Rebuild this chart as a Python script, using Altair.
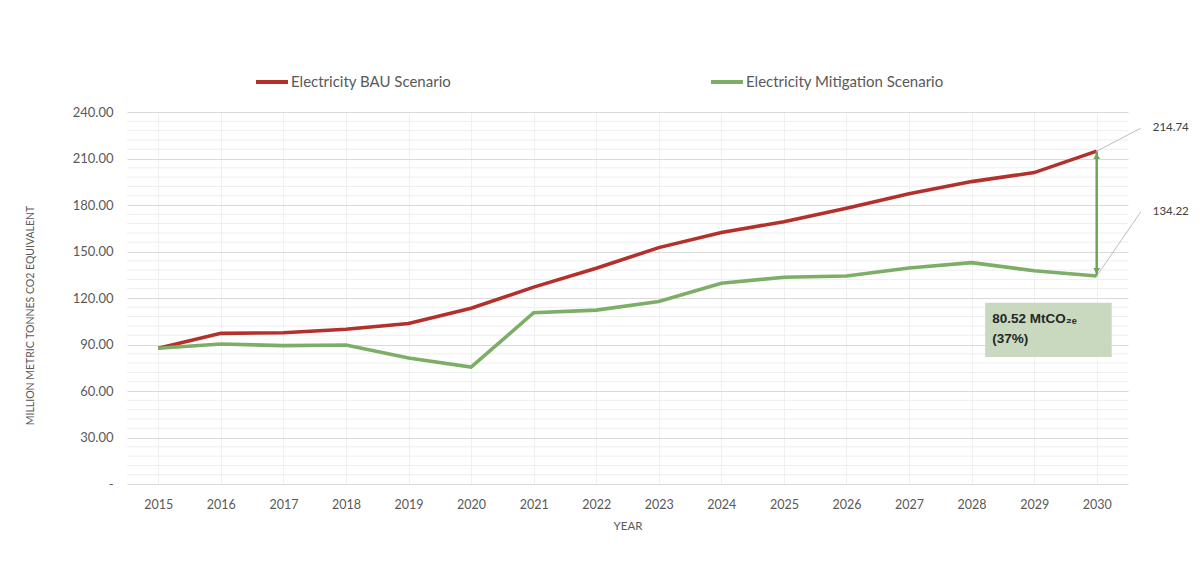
import altair as alt
import pandas as pd

years = ["2015", "2016", "2017", "2018", "2019", "2020", "2021", "2022",
         "2023", "2024", "2025", "2026", "2027", "2028", "2029", "2030"]
bau = [87.6, 97.2, 97.6, 99.8, 103.6, 113.4, 127.0, 139.2,
       152.5, 162.3, 169.2, 177.9, 187.3, 195.1, 200.9, 214.74]
mit = [87.6, 90.3, 89.3, 89.7, 81.3, 75.4, 110.5, 112.2,
       117.8, 129.5, 133.4, 134.2, 139.4, 142.8, 137.6, 134.22]
series_names = ["Electricity BAU Scenario", "Electricity Mitigation Scenario"]
series_colors = ["#b3302b", "#7dae67"]

minor_grid = [6, 12, 18, 24, 36, 42, 48, 54, 66, 72, 78, 84, 96, 102, 108, 114,
              126, 132, 138, 144, 156, 162, 168, 174, 186, 192, 198, 204,
              216, 222, 228, 234]

end_year = ["2030"]
end_labels = ["214.74", "134.22"]
end_values = [214.74, 134.22]
label_y = [229.5, 175.5]
box_text = ["80.52 MtCO₂ₑ", "(37%)"]

rows = []
for n, vals in zip(series_names, [bau, mit]):
    for y, v in zip(years, vals):
        rows.append({"year": y, "value": v, "series": n})
df = pd.DataFrame(rows)

x_enc = alt.X("year:O", scale=alt.Scale(domain=years, type="point", padding=0.5),
              axis=alt.Axis(title="YEAR", labelAngle=0, labelFontSize=12.5, labelColor="#595959",
                            labelFont="Lato", labelPadding=14, ticks=False, domain=False,
                            grid=True, gridColor="#f0f0f0", titleFontSize=11.5, titleFont="Lato",
                            titleColor="#595959", titleFontWeight="normal", titlePadding=10))
y_scale = alt.Scale(domain=[0, 240], nice=False)

grid_df = pd.DataFrame({"v": minor_grid})
minor = alt.Chart(grid_df).mark_rule(color="#eeeeee", strokeWidth=1).encode(
    y=alt.Y("v:Q", scale=y_scale,
            axis=alt.Axis(title="MILLION METRIC  TONNES CO2 EQUIVALENT", values=[0, 30, 60, 90, 120, 150, 180, 210, 240],
                          labelExpr="datum.value == 0 ? '-' : format(datum.value, '.2f')",
                          labelFontSize=13, labelColor="#595959", labelFont="Lato", labelPadding=14,
                          ticks=False, domain=False, gridColor="#d9d9d9", gridWidth=1.2,
                          titleFontSize=10.5, titleFont="Lato", titleColor="#595959", titleFontWeight="normal",
                          titleX=-97, titleY=203, titleAngle=-90, titleAlign="center", titleBaseline="middle"))
)

lines = alt.Chart(df).mark_line(strokeWidth=3.6).encode(
    x=x_enc,
    y=alt.Y("value:Q", scale=y_scale),
    color=alt.Color("series:N", scale=alt.Scale(domain=series_names, range=series_colors),
                    legend=alt.Legend(title=None, orient="none", direction="horizontal",
                                      legendX=127, legendY=-48, symbolType="stroke",
                                      symbolSize=1024, symbolStrokeWidth=4, labelOffset=1,
                                      labelFontSize=15, labelFont="Lato", labelColor="#595959",
                                      labelLimit=0, columnPadding=251)),
)

arrow_df = pd.DataFrame({"year": end_year, "top": [end_values[0]], "bottom": [end_values[1]]})
arrow = alt.Chart(arrow_df).mark_rule(color="#6fa35a", strokeWidth=2.5).encode(
    x="year:O", y="top:Q", y2="bottom:Q")
head_up = alt.Chart(arrow_df).mark_point(shape="triangle-up", filled=True, color="#6fa35a",
                                         size=45, yOffset=5, opacity=1).encode(x="year:O", y="top:Q")
head_dn = alt.Chart(arrow_df).mark_point(shape="triangle-down", filled=True, color="#6fa35a",
                                         size=45, yOffset=-5, opacity=1).encode(x="year:O", y="bottom:Q")

lab_df = pd.DataFrame({"year": end_year * 2, "value": end_values, "ly": label_y, "label": end_labels})
leader = alt.Chart(lab_df).mark_rule(color="#bfbfbf", strokeWidth=1, x2Offset=44).encode(
    x="year:O", x2="year:O", y="value:Q", y2="ly:Q")
labels = alt.Chart(lab_df).mark_text(align="left", baseline="middle", dx=56, fontSize=11.5,
                                     font="Lato", color="#404040").encode(
    x="year:O", y="ly:Q", text="label:N")

box_df = pd.DataFrame({"x1": ["2029"], "x2": ["2030"], "y1": [117.0], "y2": [82.0]})
box = alt.Chart(box_df).mark_rect(color="#c9d9c0", xOffset=-49, x2Offset=15).encode(
    x="x1:O", x2="x2:O", y="y1:Q", y2="y2:Q")
bt_df = pd.DataFrame({"x1": ["2029", "2029"], "y": [106.5, 93.6], "t": box_text})
box_txt = alt.Chart(bt_df).mark_text(align="left", baseline="middle", dx=-42, fontSize=13.5,
                                     fontWeight="bold", font="Liberation Sans", color="#262626").encode(
    x="x1:O", y="y:Q", text="t:N")

chart = alt.layer(minor, lines, arrow, head_up, head_dn, leader, labels, box, box_txt).properties(
    width=1001, height=372,
    autosize=alt.AutoSizeParams(type="none"),
    padding={"left": 119, "top": 104, "right": 68, "bottom": 70},
    background="white",
).configure_view(stroke=None)

chart.save("out.html", embed_options={"renderer": "svg", "actions": False})
